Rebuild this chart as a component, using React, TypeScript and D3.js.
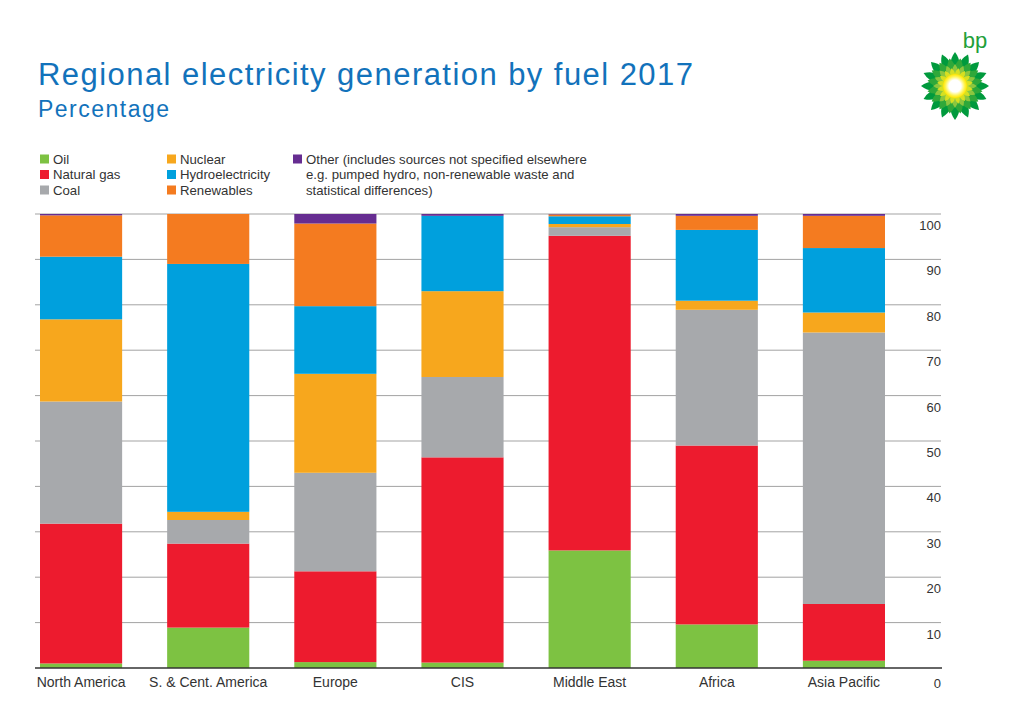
import React from "react";
import * as d3 from "d3";

const regions = ["North America", "S. & Cent. America", "Europe", "CIS", "Middle East", "Africa", "Asia Pacific"];
const fuels = ["Oil", "Natural gas", "Coal", "Nuclear", "Hydroelectricity", "Renewables", "Other"];
const oil = [1.0, 8.9, 1.3, 1.2, 25.9, 9.6, 1.6];
const naturalGas = [30.8, 18.5, 20.0, 45.2, 69.3, 39.4, 12.5];
const coal = [26.9, 5.2, 21.7, 17.7, 1.9, 29.9, 59.8];
const nuclear = [18.1, 1.8, 21.8, 18.9, 0.7, 2.0, 4.4];
const hydro = [13.8, 54.6, 14.9, 16.6, 1.7, 15.6, 14.2];
const renewables = [9.1, 11.0, 18.2, 0.0, 0.4, 3.1, 7.1];
const other = [0.3, 0.0, 2.1, 0.4, 0.1, 0.4, 0.4];
const yTicks = [0, 10, 20, 30, 40, 50, 60, 70, 80, 90, 100];

const colors = ["#7dc242", "#ed1b2e", "#a7a9ac", "#f7a71d", "#00a0dd", "#f47b20", "#662d91"];

const legendItems = [
  { fuel: 0, col: 0, row: 0, lines: ["Oil"] },
  { fuel: 1, col: 0, row: 1, lines: ["Natural gas"] },
  { fuel: 2, col: 0, row: 2, lines: ["Coal"] },
  { fuel: 3, col: 1, row: 0, lines: ["Nuclear"] },
  { fuel: 4, col: 1, row: 1, lines: ["Hydroelectricity"] },
  { fuel: 5, col: 1, row: 2, lines: ["Renewables"] },
  {
    fuel: 6,
    col: 2,
    row: 0,
    lines: [
      "Other (includes sources not specified elsewhere",
      "e.g. pumped hydro, non-renewable waste and",
      "statistical differences)",
    ],
  },
];

function Helios({ cx, cy }: { cx: number; cy: number }) {
  const petals = (n: number, r0: number, r1: number, w: number, rot: number, fill: string, key: string) => {
    const items = [];
    for (let i = 0; i < n; i++) {
      const a = (360 * i) / n + rot;
      const mid = (r0 + r1) / 2;
      const len = (r1 - r0) / 2;
      items.push(
        <path
          key={key + i}
          d={`M ${cx} ${cy - r0} Q ${cx + w} ${cy - mid} ${cx} ${cy - r1} Q ${cx - w} ${cy - mid} ${cx} ${cy - r0} Z`}
          transform={`rotate(${a} ${cx} ${cy})`}
          fill={fill}
          data-len={len}
        />
      );
    }
    return items;
  };
  return (
    <g>
      <defs>
        <radialGradient id="helioCore">
          <stop offset="0%" stopColor="#ffffff" />
          <stop offset="50%" stopColor="#ffffff" />
          <stop offset="80%" stopColor="#fff44f" />
          <stop offset="100%" stopColor="#ffe400" />
        </radialGradient>
      </defs>
      {petals(16, 10, 34, 9, 0, "#009a3d", "a")}
      {petals(16, 8, 28, 8, 11.25, "#2fa83a", "b")}
      {petals(16, 7, 22, 6, 0, "#8cc63f", "c")}
      {petals(16, 6, 18, 5, 11.25, "#d7e021", "d")}
      <circle cx={cx} cy={cy} r={12} fill="url(#helioCore)" />
    </g>
  );
}

export default function App() {
  const W = 1024;
  const H = 704;
  const x = d3
    .scaleBand<string>()
    .domain(regions)
    .range([17.5, 907.5])
    .paddingInner(0.354)
    .paddingOuter(0.177);
  const y = d3.scaleLinear().domain([0, 100]).range([668, 214]);

  const series = [oil, naturalGas, coal, nuclear, hydro, renewables, other];
  const table = regions.map((r, i) => {
    const o: Record<string, number | string> = { region: r };
    fuels.forEach((f, k) => (o[f] = series[k][i]));
    return o;
  });
  const stacked = d3.stack<Record<string, number | string>>().keys(fuels)(table as any);

  const font = "'Liberation Sans', Arial, Helvetica, sans-serif";
  const narrow = "'Liberation Sans Narrow', 'Liberation Sans', Arial, sans-serif";

  return (
    <svg
      width={W}
      height={H}
      viewBox={`0 0 ${W} ${H}`}
      style={{ position: "absolute", left: 0, top: 0, background: "#fff" }}
    >
      <rect width={W} height={H} fill="#fff" />
      <text x={38} y={85} fontFamily={font} fontSize={31} fill="#1272bb" textLength={655} lengthAdjust="spacing">
        Regional electricity generation by fuel 2017
      </text>
      <text x={38} y={117} fontFamily={font} fontSize={23} fill="#1272bb" textLength={131} lengthAdjust="spacing">
        Percentage
      </text>

      <text x={975} y={48} fontFamily={font} fontSize={22} fill="#22a03a" textAnchor="middle">
        bp
      </text>
      <Helios cx={955} cy={86} />

      {legendItems.map((it, i) => {
        const colX = [40, 167, 293][it.col];
        const rowY = 159 + it.row * 15.5;
        return (
          <g key={i}>
            <rect x={colX} y={rowY - 4.5} width={9} height={9} fill={colors[it.fuel]} />
            {it.lines.map((ln, j) => (
              <text
                key={j}
                x={colX + 13}
                y={rowY + 4.5 + j * 15.5}
                fontFamily={font}
                fontSize={13.2}
                fill="#333"
              >
                {ln}
              </text>
            ))}
          </g>
        );
      })}

      {yTicks
        .filter((t) => t > 0)
        .map((t) => (
          <line key={t} x1={35} x2={941} y1={y(t)} y2={y(t)} stroke="#a3a3a3" strokeWidth={1} />
        ))}

      {stacked.map((s, k) => (
        <g key={fuels[k]} fill={colors[k]}>
          {s.map((d, i) => {
            const h = y(d[0]) - y(d[1]);
            if (h <= 0) return null;
            return (
              <rect
                key={i}
                x={x(regions[i])}
                y={y(d[1])}
                width={x.bandwidth()}
                height={h}
              />
            );
          })}
        </g>
      ))}

      <line x1={35} x2={942} y1={y(0)} y2={y(0)} stroke="#333" strokeWidth={1.5} />

      {yTicks.map((t) => (
        <text
          key={t}
          x={941}
          y={t === 0 ? y(0) + 20 : y(t) + 16}
          textAnchor="end"
          fontFamily={font}
          fontSize={13}
          fill="#333"
        >
          {t}
        </text>
      ))}

      {regions.map((r) => (
        <text
          key={r}
          x={(x(r) as number) + x.bandwidth() / 2}
          y={687}
          textAnchor="middle"
          fontFamily={narrow}
          fontSize={14}
          fill="#333"
        >
          {r}
        </text>
      ))}
    </svg>
  );
}
